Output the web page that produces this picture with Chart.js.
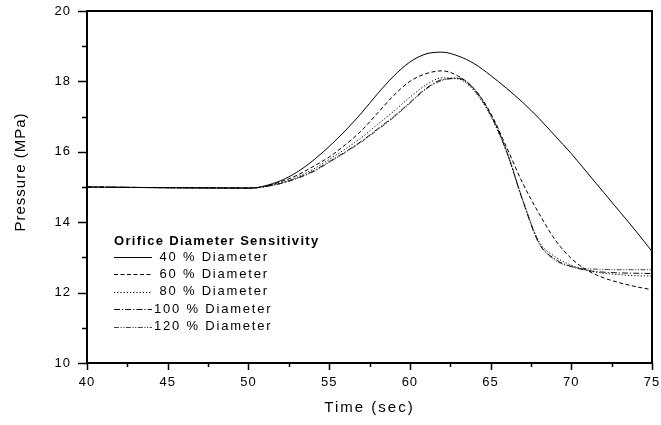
<!DOCTYPE html>
<html>
<head>
<meta charset="utf-8">
<script src="https://cdn.jsdelivr.net/npm/chart.js@4"></script>
<style>
    html, body { margin: 0; padding: 0; background: #fff; }
    #wrap { width: 661px; height: 425px; }
</style>
</head>
<body>
<div id="wrap"><canvas id="pressureChart" width="661" height="425"></canvas></div>
<script>
const CHART = document.getElementById('pressureChart')

const time = [40, 45, 50, 50.5, 51, 52, 53, 54, 55, 56, 57, 58, 59, 60, 61, 62, 63, 64, 65, 66, 67, 68, 69, 70, 71, 72, 73, 74, 75]

const dia40 = [15.0, 14.98, 14.97, 14.98, 15.03, 15.18, 15.42, 15.75, 16.15, 16.6, 17.1, 17.65, 18.15, 18.55, 18.78, 18.83, 18.72, 18.5, 18.17, 17.8, 17.4, 16.95, 16.45, 15.95, 15.4, 14.85, 14.3, 13.75, 13.17]
const dia60 = [15.0, 14.98, 14.97, 14.98, 15.02, 15.15, 15.33, 15.58, 15.85, 16.2, 16.6, 17.1, 17.6, 18.0, 18.22, 18.3, 18.15, 17.78, 17.1, 16.12, 15.1, 14.25, 13.5, 12.97, 12.63, 12.42, 12.28, 12.17, 12.08]
const dia80 = [15.0, 14.98, 14.97, 14.98, 15.01, 15.12, 15.28, 15.5, 15.78, 16.08, 16.4, 16.78, 17.15, 17.55, 17.9, 18.1, 18.07, 17.72, 17.02, 15.98, 14.62, 13.45, 13.02, 12.78, 12.63, 12.55, 12.51, 12.48, 12.47]
const dia100 = [15.0, 14.98, 14.97, 14.98, 15.01, 15.1, 15.25, 15.45, 15.72, 16.0, 16.3, 16.65, 17.0, 17.4, 17.8, 18.05, 18.08, 17.75, 17.05, 16.0, 14.6, 13.4, 12.95, 12.74, 12.63, 12.58, 12.56, 12.55, 12.54]
const dia120 = [15.0, 14.98, 14.97, 14.98, 15.01, 15.1, 15.24, 15.43, 15.7, 15.98, 16.28, 16.62, 16.98, 17.38, 17.78, 18.03, 18.1, 17.78, 17.08, 16.02, 14.62, 13.42, 12.92, 12.74, 12.68, 12.66, 12.65, 12.65, 12.65]

const labels = ['40 % Diameter', '60 % Diameter', '80 % Diameter', '100 % Diameter', '120 % Diameter']
const legendTitle = 'Orifice Diameter Sensitivity'
const xTitle = 'Time (sec)'
const yTitle = 'Pressure (MPa)'

const FONT = "'Liberation Sans', Arial, sans-serif"
const dashes = [[], [4, 2.5], [1.2, 2], [6, 2, 1.2, 2], [5, 1.5, 1.2, 1.5, 1.2, 1.5]]
const colors = ['#000', '#000', '#000', '#111', '#444']

function points(values) {
    return time.map((t, i) => ({ x: t, y: values[i] }))
}

const series = [dia40, dia60, dia80, dia100, dia120]
const data = {
    datasets: series.map((s, i) => ({
        label: labels[i],
        data: points(s),
        borderColor: colors[i],
        borderWidth: 1,
        borderDash: dashes[i],
        pointRadius: 0,
        cubicInterpolationMode: 'monotone',
        fill: false
    }))
}

// frame, short tick marks, axis titles and the in-plot legend
const decorations = {
    id: 'decorations',
    beforeDraw(chart) {
        chart.ctx.letterSpacing = '1px'
    },
    afterDraw(chart) {
        const ctx = chart.ctx
        const area = chart.chartArea
        const xs = chart.scales.x
        const ys = chart.scales.y
        ctx.save()
        ctx.strokeStyle = '#000'
        ctx.lineWidth = 2
        ctx.setLineDash([])
        ctx.strokeRect(area.left, area.top, area.right - area.left, area.bottom - area.top)

        ctx.lineWidth = 1.5
        for (let v = 10; v <= 20; v++) {
            const y = Math.round(ys.getPixelForValue(v)) + 0.5
            const len = v % 2 === 0 ? 9 : 5
            ctx.beginPath()
            ctx.moveTo(area.left - len, y)
            ctx.lineTo(area.left, y)
            ctx.stroke()
        }
        for (let v = 40; v <= 75; v += 2.5) {
            const x = Math.round(xs.getPixelForValue(v)) + 0.5
            const len = v % 5 === 0 ? 7 : 4
            ctx.beginPath()
            ctx.moveTo(x, area.bottom)
            ctx.lineTo(x, area.bottom + len)
            ctx.stroke()
        }

        ctx.fillStyle = '#000'
        ctx.font = '15px ' + FONT
        ctx.letterSpacing = '2px'
        ctx.textAlign = 'center'
        ctx.textBaseline = 'middle'
        ctx.fillText(xTitle, (area.left + area.right) / 2, 408)

        ctx.letterSpacing = '1px'
        ctx.translate(21, 172)
        ctx.rotate(-Math.PI / 2)
        ctx.fillText(yTitle, 0, 0)
        ctx.setTransform(1, 0, 0, 1, 0, 0)

        // legend
        ctx.textAlign = 'left'
        ctx.textBaseline = 'alphabetic'
        ctx.font = 'bold 13px ' + FONT
        ctx.letterSpacing = '1.3px'
        ctx.fillText(legendTitle, 114, 245)

        ctx.font = '13px ' + FONT
        ctx.letterSpacing = '1.8px'
        chart.data.datasets.forEach((ds, i) => {
            const rowY = 257 + i * 17.4
            ctx.strokeStyle = ds.borderColor
            ctx.lineWidth = 1
            ctx.setLineDash(ds.borderDash)
            ctx.beginPath()
            ctx.moveTo(114, Math.round(rowY) + 0.5)
            ctx.lineTo(152, Math.round(rowY) + 0.5)
            ctx.stroke()
            ctx.setLineDash([])
            ctx.textBaseline = 'middle'
            ctx.fillText(ds.label.padStart(14), 154, rowY)
        })
        ctx.restore()
    }
}

let pressureChart = new Chart(CHART, {
    type: 'line',
    data: data,
    options: {
        responsive: false,
        animation: false,
        layout: {
            padding: { left: 0, right: 9, top: 11, bottom: 0 }
        },
        plugins: {
            legend: { display: false },
            tooltip: { enabled: false }
        },
        scales: {
            x: {
                type: 'linear',
                min: 40,
                max: 75,
                afterFit(scale) {
                    scale.height = 62
                    scale.paddingLeft = 0
                    scale.paddingRight = 0
                },
                grid: { display: false, drawTicks: false },
                border: { display: true, color: '#000', width: 2 },
                ticks: {
                    stepSize: 5,
                    padding: 12,
                    color: '#000',
                    font: { family: FONT, size: 13 }
                }
            },
            y: {
                min: 10,
                max: 20,
                afterFit(scale) {
                    scale.width = 87
                    scale.paddingTop = 0
                    scale.paddingBottom = 0
                },
                grid: { display: false, drawTicks: false },
                border: { display: true, color: '#000', width: 2 },
                ticks: {
                    stepSize: 2,
                    padding: 16,
                    color: '#000',
                    font: { family: FONT, size: 13 }
                }
            }
        }
    },
    plugins: [decorations]
})
</script>
</body>
</html>
